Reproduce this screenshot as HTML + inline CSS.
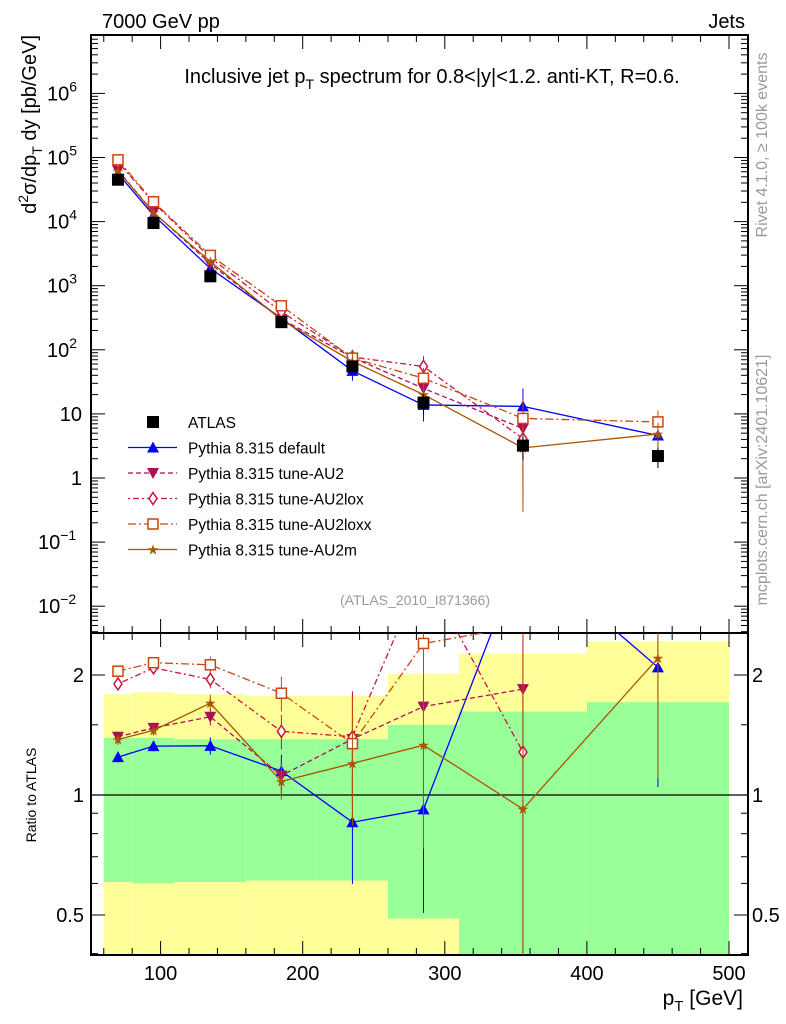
<!DOCTYPE html>
<html><head><meta charset="utf-8"><style>
html,body{margin:0;background:#fff;overflow:hidden;width:786px;height:1024px;}
svg{display:block;font-family:"Liberation Sans",sans-serif;}
</style></head><body>
<svg id="c" width="786" height="1024" xmlns="http://www.w3.org/2000/svg"></svg>
<script>
const xCenters=[70,95,135,185,235,285,355,450];
const binEdges=[60,80,110,160,210,260,310,400,500];
const atlasVals=[45000,9500,1400,270,55,15,3.2,2.2];
const atlasErrs=[0.1,0.1,0.12,0.15,0.2,0.35,0.4,0.35];
const defaultVals=[56000,12600,1860,310,47,13.8,13.1,4.6];
const au2Vals=[63000,14000,2200,302,76,25,5.9];
const loxVals=[85500,19800,2730,390,77,55,4.1];
const loxxVals=[92000,20400,2970,486,74,36,8.5,7.5];
const au2mVals=[62000,13800,2380,292,66,20,2.95,4.85];
const mcErrs=[0.03,0.03,0.05,0.1,0.3,0.45,0.9,0.5];
const greenUp=[1.39,1.39,1.38,1.38,1.38,1.5,1.62,1.71];
const greenLo=[0.605,0.6,0.605,0.61,0.61,0.49,0.3,0.3];
const yellowUp=[1.79,1.81,1.79,1.77,1.77,2.01,2.26,2.43];
const yellowLo=[0.3,0.3,0.3,0.3,0.3,0.3,0.3,0.3];
const mainTicks=[-2,-1,0,1,2,3,4,5,6];
const mainTickLabels=["10","10","1","10","10","10","10","10","10"];
const mainTickSups=["−2","−1","","","2","3","4","5","6"];
const ratioTicks=[0.5,1,2];
const xTicks=[100,200,300,400,500];

const S=document.getElementById('c');const NS='http://www.w3.org/2000/svg';
function el(t,a,p){const e=document.createElementNS(NS,t);for(const k in a)e.setAttribute(k,a[k]);(p||S).appendChild(e);return e;}
const L=91,R=748,T=35,MB=633,RB=955;
const X=v=>18.5+(v)*1.421;
const YM=v=>478-64.1*Math.log10(v);
const YR=v=>795-398.6*Math.log10(v);
const clipM=el('clipPath',{id:'cm'});el('rect',{x:L,y:T,width:R-L,height:MB-T},clipM);
const clipR=el('clipPath',{id:'cr'});el('rect',{x:L,y:MB,width:R-L,height:RB-MB},clipR);

const gB=el('g',{'clip-path':'url(#cr)'});

for(let i=0;i<8;i++){
 const x0=X(binEdges[i]),x1=X(binEdges[i+1]);
 const y=el('rect',{x:x0,y:YR(yellowUp[i]),width:x1-x0,height:YR(yellowLo[i])-YR(yellowUp[i]),fill:'#ffff99'},gB);
 
 const g=el('rect',{x:x0,y:YR(greenUp[i]),width:x1-x0,height:YR(greenLo[i])-YR(greenUp[i]),fill:'#99ff99'},gB);
 
}
el('line',{x1:L,x2:R,y1:YR(1),y2:YR(1),stroke:'#000','stroke-width':1.3});

el('rect',{x:L,y:T,width:R-L,height:MB-T,fill:'none',stroke:'#000','stroke-width':2});
el('rect',{x:L,y:MB,width:R-L,height:RB-MB,fill:'none',stroke:'#000','stroke-width':2});

mainTicks.forEach((p,i)=>{
 const y=YM(Math.pow(10,p));
 el('line',{x1:L,x2:L+14,y1:y,y2:y,stroke:'#000'});el('line',{x1:R,x2:R-14,y1:y,y2:y,stroke:'#000'});
 for(let k=2;k<10;k++){const yy=YM(k*Math.pow(10,p));if(yy>T){el('line',{x1:L,x2:L+7,y1:yy,y2:yy,stroke:'#000'});el('line',{x1:R,x2:R-7,y1:yy,y2:yy,stroke:'#000'});}}
 let t;
 if(mainTickSups[i]){t=el('text',{x:mainTickSups[i].length>1?38:47,y:y+7,'font-size':20});}
 else t=el('text',{x:82,y:y+7,'font-size':20,'text-anchor':'end'});
 
 t.textContent=mainTickLabels[i];
 if(mainTickSups[i]){const s=el('tspan',{dy:-9,'font-size':14},t);s.textContent=mainTickSups[i];}
});
for(let k=2;k<10;k++){const yy=YM(k*0.001);if(yy<MB){el('line',{x1:L,x2:L+7,y1:yy,y2:yy,stroke:'#000'});el('line',{x1:R,x2:R-7,y1:yy,y2:yy,stroke:'#000'});}}
ratioTicks.forEach(v=>{const y=YR(v);
 el('line',{x1:L,x2:L+14,y1:y,y2:y,stroke:'#000'});el('line',{x1:R,x2:R-14,y1:y,y2:y,stroke:'#000'});
 const t1=el('text',{x:84,y:y+7,'font-size':20,'text-anchor':'end'});t1.textContent=String(v);
 
 const t2=el('text',{x:752,y:y+7,'font-size':20});t2.textContent=String(v);
 
});
[0.4,0.6,0.7,0.8,0.9,1.5].forEach(v=>{const y=YR(v);el('line',{x1:L,x2:L+7,y1:y,y2:y,stroke:'#000'});el('line',{x1:R,x2:R-7,y1:y,y2:y,stroke:'#000'});});
for(let v=60;v<=500;v+=20){const x=X(v);const big=v%100===0;const h=big?14:7;
 [T,MB].forEach(y=>el('line',{x1:x,x2:x,y1:y,y2:y+h,stroke:'#000'}));
 [MB,RB].forEach(y=>el('line',{x1:x,x2:x,y1:y,y2:y-h,stroke:'#000'}));}
xTicks.forEach(v=>{const t=el('text',{x:X(v),y:980,'font-size':20,'text-anchor':'middle'});t.textContent=v;
 });

const series=[
 {name:'pythia-default',vals:defaultVals,col:'#0000ff',dash:'',mk:'tri'},
 {name:'pythia-au2',vals:au2Vals,col:'#aa1155',dash:'5,3',mk:'tridown'},
 {name:'pythia-au2lox',vals:loxVals,col:'#cc1144',dash:'2,3,6,3',mk:'diamond'},
 {name:'pythia-au2loxx',vals:loxxVals,col:'#cc4411',dash:'8,3,2,3',mk:'square'},
 {name:'pythia-au2m',vals:au2mVals,col:'#aa5500',dash:'',mk:'star'}];
function marker(g,type,x,y,col){
 let m;
 if(type==='tri')m=el('polygon',{points:`${x},${y-6} ${x-6},${y+5} ${x+6},${y+5}`,fill:col},g);
 else if(type==='tridown')m=el('polygon',{points:`${x},${y+6} ${x-6},${y-5} ${x+6},${y-5}`,fill:col},g);
 else if(type==='diamond')m=el('polygon',{points:`${x},${y-6} ${x-4},${y} ${x},${y+6} ${x+4},${y}`,fill:'#fff',stroke:col,'stroke-width':1.5},g);
 else if(type==='square')m=el('rect',{x:x-5,y:y-5,width:10,height:10,fill:'#fff',stroke:col,'stroke-width':1.5},g);
 else if(type==='star'){m=el('text',{x:x,y:y+5,'font-size':14,fill:col,'text-anchor':'middle'},g);m.textContent='★';}
 else m=el('rect',{x:x-6,y:y-6,width:12,height:12,fill:col},g);
 
}
series.forEach(s=>{
 const gm=el('g',{'clip-path':'url(#cm)'});
 const gr=el('g',{'clip-path':'url(#cr)'});
 const pm=s.vals.map((v,i)=>X(xCenters[i])+','+YM(v)).join(' ');
 const pr=s.vals.map((v,i)=>X(xCenters[i])+','+YR(v/atlasVals[i])).join(' ');
 el('polyline',{points:pm,fill:'none',stroke:s.col,'stroke-width':1.3,'stroke-dasharray':s.dash},gm);
 el('polyline',{points:pr,fill:'none',stroke:s.col,'stroke-width':1.3,'stroke-dasharray':s.dash},gr);
 s.vals.forEach((v,i)=>{const x=X(xCenters[i]);const r=v/atlasVals[i];const e=mcErrs[i];
  el('line',{x1:x,x2:x,y1:YR(r*(1+e)),y2:YR(Math.max(r*(1-e),0.01)),stroke:s.col},gr);
  el('line',{x1:x,x2:x,y1:YM(v*(1+e)),y2:YM(Math.max(v*(1-e),1e-4)),stroke:s.col},gm);
  marker(gm,s.mk,x,YM(v),s.col);marker(gr,s.mk,x,YR(r),s.col);});
});
const ga=el('g',{});
atlasVals.forEach((v,i)=>{const x=X(xCenters[i]);
 el('line',{x1:x,x2:x,y1:YM(v*(1+atlasErrs[i])),y2:YM(v*(1-atlasErrs[i])),stroke:'#000'},ga);
 marker(ga,'sq',x,YM(v),'#000');});

const leg=[['ATLAS','#000','','sq'],...series.map((s,i)=>[['Pythia 8.315 default','Pythia 8.315 tune-AU2','Pythia 8.315 tune-AU2lox','Pythia 8.315 tune-AU2loxx','Pythia 8.315 tune-AU2m'][i],s.col,s.dash,s.mk])];
leg.forEach((l,i)=>{const y=422+i*25.5;const g=el('g',{});
 
 if(i>0)el('line',{x1:128,x2:177,y1:y,y2:y,stroke:l[1],'stroke-width':1.3,'stroke-dasharray':l[2]},g);
 marker(g,l[3],153,y,l[1]);
 const t=el('text',{x:188,y:y+6,'font-size':15.5},g);t.textContent=l[0];});

function txt(x,y,s,str,extra,name){const t=el('text',Object.assign({x:x,y:y,'font-size':s},extra||{}));t.textContent=str;
 return t;}
txt(102,28,20,'7000 GeV pp',{},'energy-label');
txt(745,28,20,'Jets',{'text-anchor':'end'},'process-label');
const tt=txt(432,83,20,'Inclusive jet p',{'text-anchor':'middle'},'plot-title');
let s1=el('tspan',{dy:6,'font-size':14},tt);s1.textContent='T';
let s2=el('tspan',{dy:-6},tt);s2.textContent=' spectrum for 0.8<|y|<1.2.  anti-KT, R=0.6.';
txt(415,605,14,'(ATLAS_2010_I871366)',{'text-anchor':'middle',fill:'#999'},'analysis-id');
txt(0,0,16,'Rivet 4.1.0, ≥ 100k events',{'text-anchor':'middle',fill:'#999',transform:'translate(767,145) rotate(-90)'},'rivet-label');
txt(0,0,16,'mcplots.cern.ch [arXiv:2401.10621]',{'text-anchor':'middle',fill:'#999',transform:'translate(767,480) rotate(-90)'},'mcplots-label');
const yt=txt(0,0,20,'d',{'text-anchor':'end',transform:'translate(36,35) rotate(-90)'},'y-axis-title');
[['2',-8,14],['σ/dp',8,20],['T',6,14],[' dy [pb/GeV]',-6,20]].forEach(a=>{const sp=el('tspan',{dy:a[1],'font-size':a[2]},yt);sp.textContent=a[0];});
txt(0,0,14,'Ratio to ATLAS',{'text-anchor':'middle',transform:'translate(36,795) rotate(-90)'},'ratio-axis-title');
const xt=txt(743,1005,21,'p',{'text-anchor':'end'},'x-axis-title');
let a1=el('tspan',{dy:6,'font-size':15},xt);a1.textContent='T';
let a2=el('tspan',{dy:-6},xt);a2.textContent=' [GeV]';
</script>
</body></html>
